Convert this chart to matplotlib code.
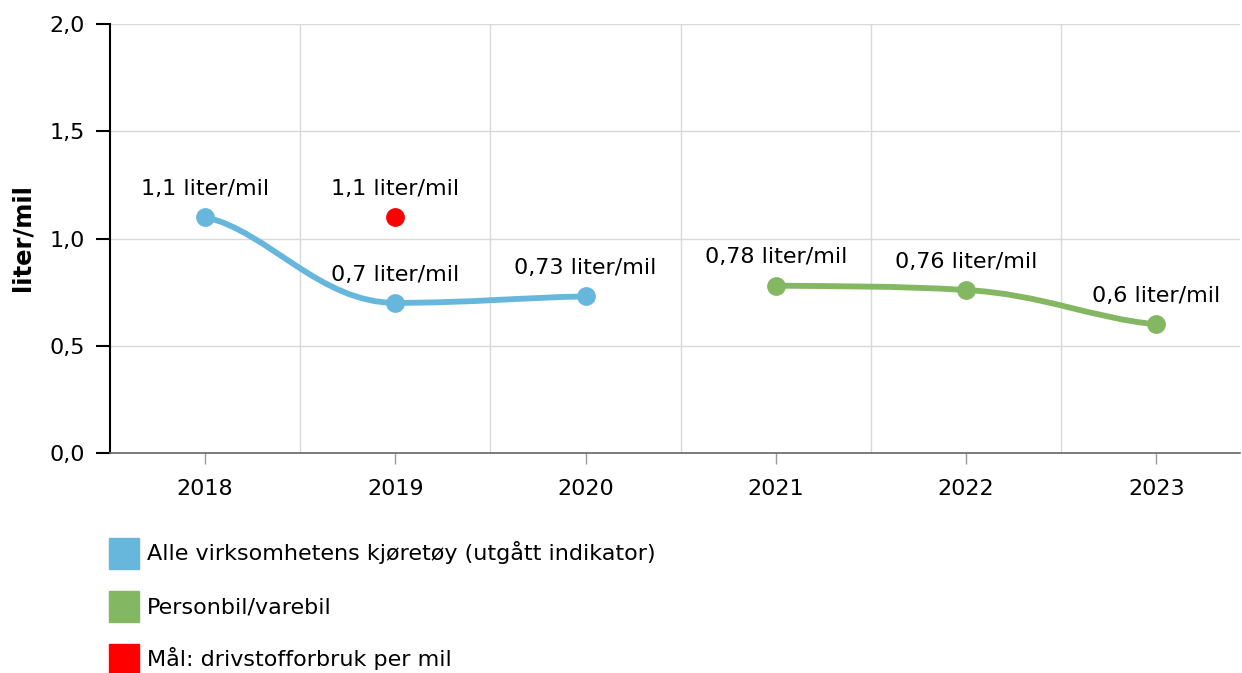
import matplotlib
matplotlib.use("Agg")
import matplotlib.pyplot as plt
from matplotlib.path import Path
from matplotlib.patches import PathPatch, Patch
from matplotlib.ticker import FuncFormatter, FixedLocator

years = [2018, 2019, 2020, 2021, 2022, 2023]
alle_years = [2018, 2019, 2020]
alle_values = [1.1, 0.7, 0.73]
person_years = [2021, 2022, 2023]
person_values = [0.78, 0.76, 0.6]
maal_years = [2019]
maal_values = [1.1]

series_names = [
    "Alle virksomhetens kjøretøy (utgått indikator)",
    "Personbil/varebil",
    "Mål: drivstofforbruk per mil",
]
colors = ["#67b7dc", "#84b761", "#ff0000"]

FONT = 16


def spline_path(xs, ys, smoothing=1.5):
    # smoothed line like the web chart: clamped control points, soft ends
    n = len(xs)
    left = [None] * n
    right = [None] * n
    for i in range(1, n - 1):
        x, y = xs[i], ys[i]
        lx, ly = xs[i - 1], ys[i - 1]
        nx, ny = xs[i + 1], ys[i + 1]
        d = smoothing + 1
        lcx, lcy = (smoothing * x + lx) / d, (smoothing * y + ly) / d
        rcx, rcy = (smoothing * x + nx) / d, (smoothing * y + ny) / d
        if rcx != lcx:
            corr = ((rcy - lcy) * (rcx - x)) / (rcx - lcx) + y - rcy
            lcy += corr
            rcy += corr
            if lcy > ly and lcy > y:
                lcy = max(ly, y)
                rcy = 2 * y - lcy
            elif lcy < ly and lcy < y:
                lcy = min(ly, y)
                rcy = 2 * y - lcy
            if rcy > ny and rcy > y:
                rcy = max(ny, y)
                lcy = 2 * y - rcy
            elif rcy < ny and rcy < y:
                rcy = min(ny, y)
                lcy = 2 * y - rcy
        left[i] = (lcx, lcy)
        right[i] = (rcx, rcy)
    # end points: tangent at half the chord slope
    dx0, dy0 = xs[1] - xs[0], ys[1] - ys[0]
    right[0] = (xs[0] + dx0 / 3, ys[0] + dy0 / 6)
    dx1, dy1 = xs[-1] - xs[-2], ys[-1] - ys[-2]
    left[-1] = (xs[-1] - dx1 / 3, ys[-1] - dy1 / 6)
    verts = [(xs[0], ys[0])]
    codes = [Path.MOVETO]
    for i in range(1, n):
        verts += [right[i - 1], left[i], (xs[i], ys[i])]
        codes += [Path.CURVE4] * 3
    return Path(verts, codes)


fig = plt.figure(figsize=(12.42, 6.73), dpi=100)
ax = fig.add_axes([110 / 1242, 1 - 453 / 673, 1130 / 1242, 429 / 673])

for xs, ys, c in [(alle_years, alle_values, colors[0]),
                  (person_years, person_values, colors[1])]:
    ax.add_patch(PathPatch(spline_path(xs, ys), fill=False, edgecolor=c,
                           lw=4.2, capstyle="round", joinstyle="round", zorder=3))
    ax.plot(xs, ys, "o", color=c, ms=12.5, zorder=4)
ax.plot(maal_years, maal_values, "o", color=colors[2], ms=12.5, zorder=4)


def fmt(v):
    return ("%g" % v).replace(".", ",") + " liter/mil"


for xs, ys in [(alle_years, alle_values), (maal_years, maal_values),
               (person_years, person_values)]:
    for x, y in zip(xs, ys):
        ax.annotate(fmt(y), (x, y), xytext=(0, 16), textcoords="offset points",
                    ha="center", va="baseline", fontsize=FONT, color="#000000")

ax.set_xlim(2017.5, 2023.44)
ax.set_ylim(0, 2.0)
ax.set_yticks([0, 0.5, 1.0, 1.5, 2.0])
ax.yaxis.set_major_formatter(FuncFormatter(lambda v, p: ("%.1f" % v).replace(".", ",")))
ax.set_xticks(years)
ax.set_xticklabels([str(y) for y in years])
ax.xaxis.set_minor_locator(FixedLocator([y + 0.5 for y in years[:-1]]))

ax.grid(axis="y", which="major", color="#d9d9d9", lw=1)
ax.grid(axis="x", which="minor", color="#d9d9d9", lw=1)
ax.set_axisbelow(True)

ax.tick_params(axis="y", length=10, width=1.5, color="#000000", pad=8, labelsize=FONT)
ax.tick_params(axis="x", which="major", length=8, width=1, color="#999999",
               pad=11, labelsize=FONT)
ax.tick_params(axis="x", which="minor", length=0)

for s in ["top", "right"]:
    ax.spines[s].set_visible(False)
ax.spines["left"].set_color("#000000")
ax.spines["left"].set_linewidth(1.5)
ax.spines["bottom"].set_color("#666666")
ax.spines["bottom"].set_linewidth(1.2)

fig.text(22 / 1242, 1 - 238 / 673, "liter/mil", rotation=90, ha="center",
         va="center", fontsize=17.5, fontweight="bold")

handles = [Patch(facecolor=c, edgecolor=c) for c in colors]
fig.legend(handles, series_names, loc="upper left",
           bbox_to_anchor=(100 / 1242, 1 - 529 / 673), frameon=False,
           borderaxespad=0, fontsize=FONT, handlelength=1.35, handleheight=1.75,
           handletextpad=0.35, labelspacing=1.0)

fig.savefig("out.png", dpi=100)
